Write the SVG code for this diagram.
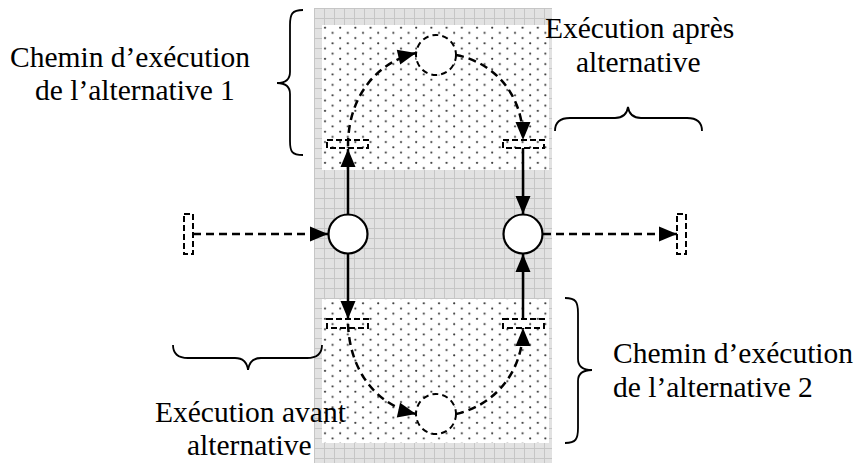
<svg xmlns="http://www.w3.org/2000/svg" width="858" height="463" viewBox="0 0 858 463">
<style>
text{font-family:"Liberation Serif","Times New Roman",serif;font-size:29.5px;fill:#000}
.place{fill:#fff;stroke:#000;stroke-width:2.2}
.dplace{fill:#fff;stroke:#000;stroke-width:2;stroke-dasharray:6,4}
.trans{fill:none;stroke:#000;stroke-width:2;stroke-dasharray:6,3}
.solid{fill:none;stroke:#000;stroke-width:2.5}
.dash{fill:none;stroke:#000;stroke-width:2.5;stroke-dasharray:8,5}
.brace{fill:none;stroke:#000;stroke-width:1.8}
</style>
<defs>
<pattern id="grid" patternUnits="userSpaceOnUse" x="314" y="8" width="10" height="10">
<rect width="10" height="10" fill="#e2e2e2"/>
<path d="M0,0.5 H10 M0.5,0 V10" stroke="#c6c6c6" stroke-width="1"/>
</pattern>
<pattern id="dots" patternUnits="userSpaceOnUse" x="322" y="25" width="15.2" height="10.4">
<rect width="15.2" height="10.4" fill="#fff"/>
<circle cx="3" cy="2.7" r="1.1" fill="#333"/>
<circle cx="10.6" cy="7.9" r="1.1" fill="#333"/>
</pattern>
<marker id="arr" markerUnits="userSpaceOnUse" markerWidth="20" markerHeight="16" refX="18" refY="7.5" orient="auto" overflow="visible">
<path d="M0,0 L18,7.5 L0,15 Z" fill="#000"/>
</marker>
</defs>
<g id="background">
<rect x="314" y="8" width="238" height="455" fill="url(#grid)"/>
<rect x="322" y="25" width="227" height="145" fill="url(#dots)"/>
<rect x="322" y="299" width="227" height="144" fill="url(#dots)"/>
</g>
<g id="connectors">
<line class="solid" x1="348" y1="214" x2="348" y2="149" marker-end="url(#arr)"/>
<line class="solid" x1="348" y1="254" x2="348" y2="319" marker-end="url(#arr)"/>
<line class="solid" x1="523" y1="148" x2="523" y2="214" marker-end="url(#arr)"/>
<line class="solid" x1="523" y1="319" x2="523" y2="254" marker-end="url(#arr)"/>
<line class="dash" x1="193" y1="234" x2="328" y2="234" marker-end="url(#arr)"/>
<line class="dash" x1="543" y1="234" x2="677" y2="234" marker-end="url(#arr)"/>
<path class="dash" d="M348,146 C348,95 378,62 416,53" marker-end="url(#arr)"/>
<path class="dash" d="M456,55 C492,62 523,92 523,140" marker-end="url(#arr)"/>
<path class="dash" d="M348,324 C350,375 380,406 416,414" marker-end="url(#arr)"/>
<path class="dash" d="M456,414 C495,405 523,372 523,328" marker-end="url(#arr)"/>
</g>
<g id="t-in"><rect class="trans" x="184" y="214" width="9" height="40"/></g>
<g id="t-out"><rect class="trans" x="677" y="214" width="9" height="40"/></g>
<g id="t-a1-start"><rect class="trans" x="327" y="140" width="41" height="8"/></g>
<g id="t-a1-end"><rect class="trans" x="503" y="140" width="41" height="8"/></g>
<g id="t-a2-start"><rect class="trans" x="327" y="319" width="41" height="9"/></g>
<g id="t-a2-end"><rect class="trans" x="503" y="319" width="41" height="9"/></g>
<g id="p-split"><circle class="place" cx="348" cy="234" r="19.5"/></g>
<g id="p-join"><circle class="place" cx="523" cy="234" r="19.5"/></g>
<g id="p-a1"><circle class="dplace" cx="436" cy="55" r="20"/></g>
<g id="p-a2"><circle class="dplace" cx="436" cy="414" r="20"/></g>
<g id="label-alt1">
<path class="brace" d="M303,10 C292,10 290,14 290,25 L290,72 C290,80 285,83 277,83 C285,83 290,86 290,94 L290,141 C290,152 292,155 303,155"/>
<text x="10" y="67">Chemin d’exécution</text>
<text x="35" y="100">de l’alternative 1</text>
</g>
<g id="label-after">
<path class="brace" d="M555,131 C555,122 560,118 570,118 L615,118 C623,118 627,114 628,107 C629,114 633,118 641,118 L687,118 C697,118 702,122 702,131"/>
<text x="545" y="38">Exécution après</text>
<text x="576" y="72">alternative</text>
</g>
<g id="label-before">
<path class="brace" d="M173,345 C173,354 178,358 188,358 L235,358 C243,358 247,362 248,370 C249,362 253,358 261,358 L307,358 C317,358 322,354 322,345"/>
<text x="155" y="422">Exécution avant</text>
<text x="187" y="455">alternative</text>
</g>
<g id="label-alt2">
<path class="brace" d="M565,298 C576,298 578,302 578,313 L578,359 C578,367 583,370 592,370 C583,370 578,373 578,381 L578,428 C578,439 576,443 565,443"/>
<text x="613" y="363">Chemin d’exécution</text>
<text x="613" y="397">de l’alternative 2</text>
</g>
</svg>
